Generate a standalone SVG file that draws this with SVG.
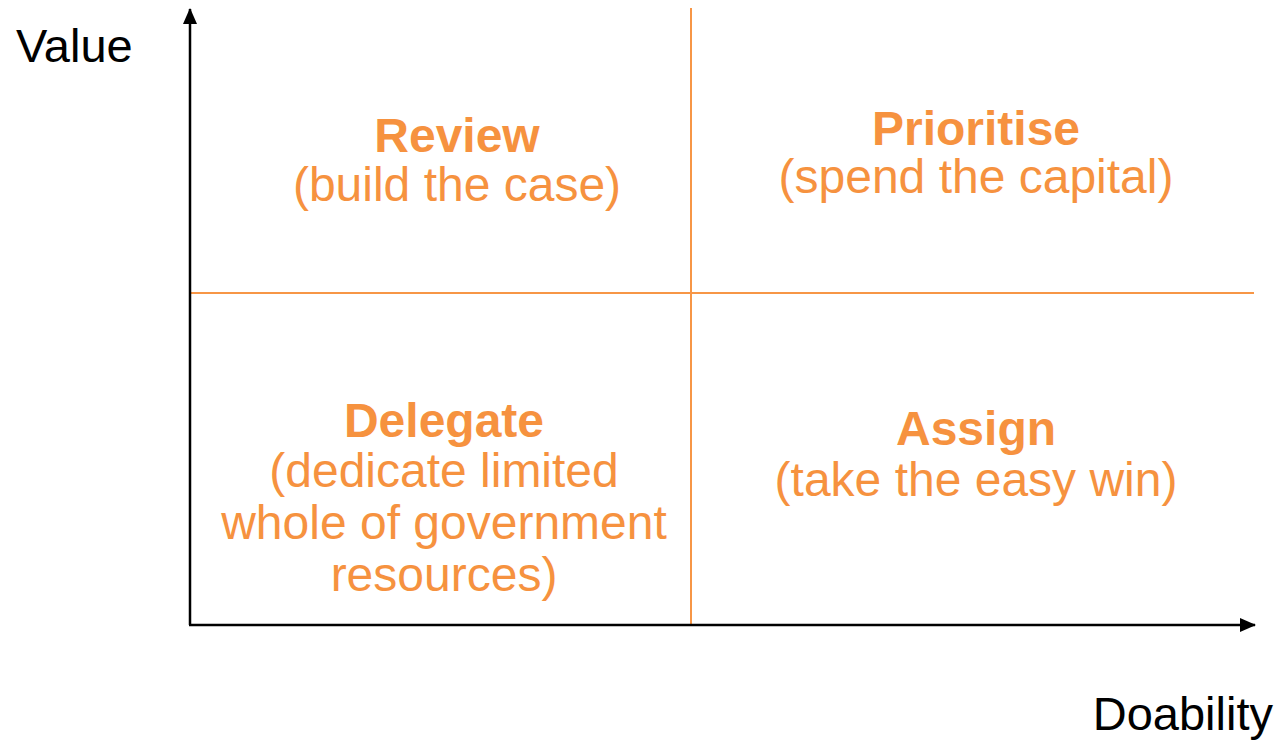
<svg xmlns="http://www.w3.org/2000/svg" width="1279" height="741" viewBox="0 0 1279 741">
  <style>
    .axis { stroke: #000000; stroke-width: 2.5; fill: none; }
    .grid { stroke: #F79646; stroke-width: 2; fill: none; }
    .axis-label { font-family: "Liberation Sans", Arial, sans-serif; font-size: 47px; fill: #000000; }
    .title { font-family: "Liberation Sans", Arial, sans-serif; font-size: 48px; font-weight: bold; fill: #F6923F; text-anchor: middle; }
    .sub { font-family: "Liberation Sans", Arial, sans-serif; font-size: 48px; fill: #F6923F; text-anchor: middle; }
  </style>
  <defs>
    <marker id="arrow" viewBox="0 0 16 14" refX="15" refY="7" markerWidth="16" markerHeight="14" markerUnits="userSpaceOnUse" orient="auto">
      <path d="M0,0 L16,7 L0,14 Z" fill="#000000"/>
    </marker>
  </defs>
  <rect width="1279" height="741" fill="#ffffff"/>

  <!-- quadrant dividers -->
  <g id="dividers">
    <line class="grid" x1="190" y1="293" x2="1254" y2="293"/>
    <line class="grid" x1="691" y1="8" x2="691" y2="625"/>
  </g>

  <!-- axes -->
  <g id="connectors">
    <line class="axis" x1="190" y1="625" x2="190" y2="9" marker-end="url(#arrow)"/>
    <line class="axis" x1="189" y1="625" x2="1255" y2="625" marker-end="url(#arrow)"/>
  </g>

  <g id="axis-value"><text class="axis-label" x="16" y="62">Value</text></g>
  <g id="axis-doability"><text class="axis-label" x="1273" y="730" text-anchor="end">Doability</text></g>

  <g id="review">
    <text class="title" x="457" y="152">Review</text>
    <text class="sub" x="457" y="201">(build the case)</text>
  </g>
  <g id="prioritise">
    <text class="title" x="976" y="145">Prioritise</text>
    <text class="sub" x="976" y="193">(spend the capital)</text>
  </g>
  <g id="delegate">
    <text class="title" x="444" y="437">Delegate</text>
    <text class="sub" x="444" y="487">(dedicate limited</text>
    <text class="sub" x="444" y="539">whole of government</text>
    <text class="sub" x="444" y="591">resources)</text>
  </g>
  <g id="assign">
    <text class="title" x="976" y="445">Assign</text>
    <text class="sub" x="976" y="496">(take the easy win)</text>
  </g>
</svg>
